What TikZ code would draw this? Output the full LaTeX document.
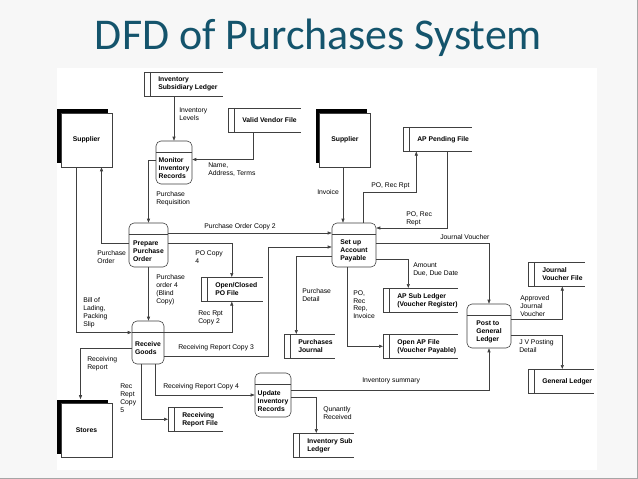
\documentclass[tikz,border=0pt]{standalone}
\usepackage{fontspec}
\setmainfont{Liberation Sans}
\newfontfamily\ttlfont{Carlito}
\usetikzlibrary{calc,arrows.meta,shadows}
\definecolor{ttlblue}{RGB}{20,84,108}
\def\dfd{\fontsize{5.8}{6.8}\selectfont}
\tikzset{ ent/.style = { rectangle % external entity
                       , draw = black!75
                       , fill = white
                       , minimum width = 1.53cm
                       , minimum height = 1.62cm
                       , general shadow = {fill=black, shadow xshift=-3.4pt, shadow yshift=3.4pt}
                       , font = \bfseries\dfd
                       }
        , prc/.style = { rectangle % process
                       , rounded corners = 0.15cm
                       , draw = black!75
                       , fill = white
                       , path picture = {\draw[black!75] ([yshift=-0.33cm]path picture bounding box.north west)
                                                      -- ([yshift=-0.33cm]path picture bounding box.north east);}
                       }
        , ptx/.style = { align = left % process text
                       , inner sep = 0
                       , font = \bfseries\dfd
                       }
        , sto/.style = { rectangle % data store frame
                       , minimum height = 0.72cm
                       , inner sep = 0
                       }
        , stx/.style = { align = left % data store text
                       , inner sep = 0
                       , font = \bfseries\dfd
                       }
        , sln/.style = { draw = black!75 } % data store lines
        , lab/.style = { align = left % flow label
                       , inner sep = 0
                       , anchor = north west
                       , font = \dfd
                       }
        , flw/.style = { draw = black!75 % data flow
                       , -{Triangle[length=3.4pt,width=2.6pt]}
                       }
        }
\def\prc#1(#2,#3)#4#5#6{% process: name, centre, width, height, text
  \node[prc, minimum width=#4*0.03cm, minimum height=#5*0.03cm] (#1) at (#2,#3) {};
  \node[ptx] (#1-t) at ($(#1.center)+(0,6)$) {#6};
}
\def\sto#1(#2,#3)#4#5{% data store: name, north west corner, width, text
  \node[sto, minimum width=#4*0.03cm, anchor=north west] (#1) at (#2,#3) {};
  \draw[sln] (#1.north east) -- (#1.north west) -- (#1.south west) -- (#1.south east);
  \draw[sln] ($(#1.north west)+(6,0)$) -- ($(#1.south west)+(6,0)$);
  \node[stx, anchor=west] (#1-t) at ($(#1.west)+(14,0)$) {#5};
}
\begin{document}
\begin{tikzpicture}[x=0.03cm, y=-0.03cm, line width=0.5pt]
\useasboundingbox (0,0) rectangle (638,479);
\fill[black!3] (0,0) rectangle (638,479);
\fill[white] (57,68) rectangle (597,470);
\draw[black!35] (637,0) -- (637,478) -- (0,478);
\node[font=\ttlfont\fontsize{37.5}{42}\selectfont, text=ttlblue, anchor=base] (title) at (318.5,50) {DFD of Purchases System};

% external entities
\node[ent] (sup1) at (86.5,140) {Supplier};
\node[ent] (sup2) at (345,140) {Supplier};
\node[ent] (stores) at (86.5,430.5) {Stores};

% processes
\prc{mon}(174,162.5){36}{43}{Monitor\\Inventory\\Records}
\prc{ppo}(148.5,245){39}{44}{Prepare\\Purchase\\Order}
\prc{rcv}(148,342.5){32}{43}{Receive\\Goods}
\prc{upd}(273,395){36}{44}{Update\\Inventory\\Records}
\prc{sap}(354,245){44}{44}{Set up\\Account\\Payable}
\prc{post}(489,326){44}{44}{Post to\\General\\Ledger}

% data stores
\sto{isl}(144,72){78}{Inventory\\Subsidiary Ledger}
\sto{vvf}(228,108){72}{Valid Vendor File}
\sto{apf}(403,127){68}{AP Pending File}
\sto{ocpo}(201,277){61}{Open/Closed\\PO File}
\sto{pj}(284,334){50}{Purchases\\Journal}
\sto{apsl}(383,288){74}{AP Sub Ledger\\(Voucher Register)}
\sto{oap}(383,334){74}{Open AP File\\(Voucher Payable)}
\sto{jvf}(528,262){56}{Journal\\Voucher File}
\sto{gl}(528,369){65}{General Ledger}
\sto{rrf}(168,407){54}{Receiving\\Report File}
\sto{isub}(293,433){60}{Inventory Sub\\Ledger}

% data flows
\draw[flw] (mon.north |- isl.south) -- (mon.north);
\draw[flw] ($(vvf.south west)+(25,0)$) |- ($(mon.east)+(0,-3)$);
\draw[flw] ($(mon.west)+(0,-2)$) -| (ppo.north);
\draw[flw] ($(ppo.west)+(0,-2)$) -| ($(sup1.south)+(15,0)$);
\draw[flw] ($(sup1.south)+(-10,0)$) |- ($(rcv.west)+(0,-10)$);
\draw[flw] ($(ppo.east)+(0,-12)$) -- ($(sap.west)+(0,-12)$);
\draw[flw] ($(ppo.east)+(0,-2)$) -| (ocpo.north);
\draw[flw] (ppo.south) -- (ppo.south |- rcv.north);
\draw[flw] ($(rcv.east)+(0,-10)$) -| (ocpo.south);
\draw[flw] ($(rcv.east)+(0,14)$) -- ++(104,0) |- ($(sap.west)+(0,2)$);
\draw[flw] ($(rcv.west)+(0,6)$) -| ($(stores.north)+(-6,-4)$);
\draw[flw] ($(rcv.south)+(-7,0)$) |- (rrf.west);
\draw[flw] ($(rcv.south)+(7,0)$) |- (upd.west);
\draw[flw] ($(upd.east)+(0,-5)$) -| (post.south);
\draw[flw] ($(upd.east)+(0,2)$) -| ($(isub.north)+(-7,0)$);
\draw[flw] ($(sup2.south)+(-2,0)$) -- ($(sap.north)+(-11,0)$);
\draw[flw] ($(sap.north)+(9,0)$) -- ++(0,-30) -| ($(apf.south)+(-21,0)$);
\draw[flw] ($(apf.south)+(10,0)$) |- ($(sap.east)+(0,-17)$);
\draw[flw] ($(sap.east)+(0,-2)$) -| (post.north);
\draw[flw] ($(sap.east)+(0,14)$) -| ($(apsl.north)+(-12,0)$);
\draw[flw] ($(sap.south)+(-7,0)$) |- (oap.west);
\draw[flw] ($(sap.west)+(0,11)$) -| ($(pj.north)+(-13,0)$);
\draw[flw] ($(post.east)+(0,-7)$) -| ($(jvf.south)+(6,0)$);
\draw[flw] ($(post.east)+(0,9)$) -| ($(gl.north)+(1.5,0)$);

% flow labels
\node[lab] (lInvLev) at (179,108) {Inventory\\Levels};
\node[lab] (lName) at (208,163) {Name,\\Address, Terms};
\node[lab] (lReq) at (156,191) {Purchase\\Requisition};
\node[lab] (lInv) at (317,189) {Invoice};
\node[lab] (lPoRec1) at (371,182) {PO, Rec Rpt};
\node[lab] (lPoRec2) at (406,211) {PO, Rec\\Rept};
\node[lab] (lPoCopy2) at (204,223) {Purchase Order Copy 2};
\node[lab] (lPo) at (97,250) {Purchase\\Order};
\node[lab] (lPoCopy4) at (195,250) {PO Copy\\4};
\node[lab] (lBlind) at (156,274) {Purchase\\order 4\\(Blind\\Copy)};
\node[lab] (lBill) at (83,297) {Bill of\\Lading,\\Packing\\Slip};
\node[lab] (lRec2) at (198,311) {Rec Rpt\\Copy 2};
\node[lab] (lRec3) at (178,344) {Receiving Report Copy 3};
\node[lab] (lRecRep) at (87,356) {Receiving\\Report};
\node[lab] (lRec5) at (120,384) {Rec\\Rept\\Copy\\5};
\node[lab] (lRec4) at (163,383) {Receiving Report Copy 4};
\node[lab] (lSum) at (362,378) {Inventory summary};
\node[lab] (lQty) at (323,406) {Qunantly\\Received};
\node[lab] (lJv) at (440,234) {Journal Voucher};
\node[lab] (lDue) at (413,263) {Amount\\Due, Due Date};
\node[lab] (lDet) at (302,288) {Purchase\\Detail};
\node[lab] (lPoInv) at (353,290) {PO,\\Rec\\Rep,\\Invoice};
\node[lab] (lAppr) at (520,295) {Approved\\Journal\\Voucher};
\node[lab] (lJvp) at (519,339) {J V Posting\\Detail};
\end{tikzpicture}
\end{document}
